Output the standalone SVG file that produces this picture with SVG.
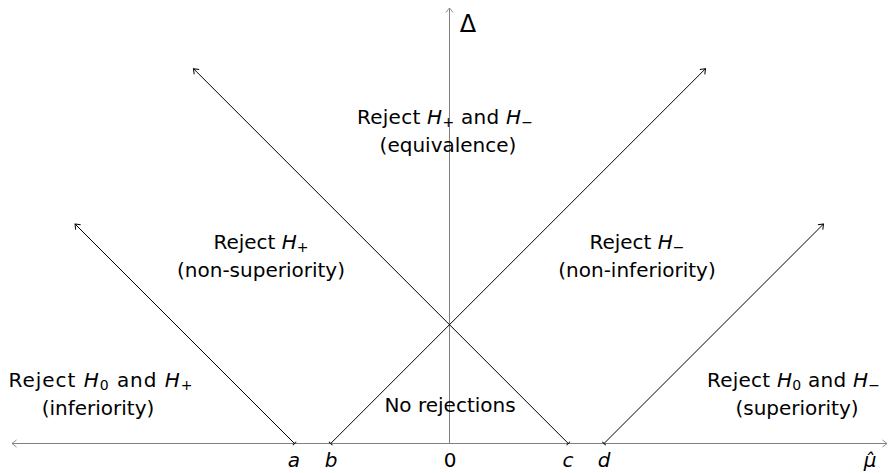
<svg xmlns="http://www.w3.org/2000/svg" width="889" height="473" viewBox="0 0 889 473">
<style>
text { font-family: "DejaVu Sans", "Liberation Sans", sans-serif; font-size: 20px; fill: #000; text-anchor: middle; }
.it { font-style: italic; }
.sub { font-size: 14px; }
.axis { stroke: #808080; stroke-width: 1; fill: none; }
.line { stroke: #000; stroke-width: 1; fill: none; }
</style>
<defs>
<marker id="arrG" viewBox="-6 -5 8 10" markerWidth="8" markerHeight="10" refX="0" refY="0" orient="auto-start-reverse" markerUnits="userSpaceOnUse">
<path d="M -4.5,-3.5 Q -1.2,-1 0,0 Q -1.2,1 -4.5,3.5" stroke="#808080" stroke-width="0.9" fill="none"/>
</marker>
<marker id="arrK" viewBox="-6 -5 8 10" markerWidth="8" markerHeight="10" refX="0" refY="0" orient="auto" markerUnits="userSpaceOnUse">
<path d="M -4.5,-3.5 Q -1.2,-1 0,0 Q -1.2,1 -4.5,3.5" stroke="#000" stroke-width="1" fill="none"/>
</marker>
<marker id="bar" viewBox="-3 -4 6 8" markerWidth="6" markerHeight="8" refX="0" refY="0" orient="auto" markerUnits="userSpaceOnUse">
<path d="M 0,-2.5 L 0,2.5" stroke="#000" stroke-width="1"/>
</marker>
</defs>
<g id="connectors">
<line id="x-axis" class="axis" x1="12" y1="443.5" x2="887" y2="443.5" marker-start="url(#arrG)" marker-end="url(#arrG)"/>
<line id="y-axis" class="axis" x1="449.5" y1="443.5" x2="449.5" y2="8" marker-end="url(#arrG)"/>
<line id="line-a" class="line" x1="294.5" y1="443.5" x2="75" y2="224" marker-start="url(#bar)" marker-end="url(#arrK)"/>
<line id="line-b" class="line" x1="330.7" y1="443.5" x2="705.5" y2="68.7" marker-start="url(#bar)" marker-end="url(#arrK)"/>
<line id="line-c" class="line" x1="568.3" y1="443.5" x2="193.5" y2="68.7" marker-start="url(#bar)" marker-end="url(#arrK)"/>
<line id="line-d" class="line" x1="604" y1="443.5" x2="823.5" y2="224" marker-start="url(#bar)" marker-end="url(#arrK)"/>
</g>
<g id="axis-labels">
<text x="294" y="467" class="it">a</text>
<text x="331" y="467" class="it">b</text>
<text x="450" y="467">0</text>
<text x="568" y="467" class="it">c</text>
<text x="604" y="467" class="it">d</text>
<text x="870" y="467" class="it">μ̂</text>
<text x="468" y="32" style="font-size:24px">Δ</text>
</g>
<g id="equivalence">
<text x="445" y="124" textLength="176" lengthAdjust="spacing">Reject <tspan class="it">H</tspan><tspan class="sub" dy="3">+</tspan><tspan dy="-3"> and </tspan><tspan class="it">H</tspan><tspan class="sub" dy="3">−</tspan></text>
<text x="448" y="152">(equivalence)</text>
</g>
<g id="non-superiority">
<text x="261" y="249">Reject <tspan class="it">H</tspan><tspan class="sub" dy="3">+</tspan></text>
<text x="261" y="277">(non-superiority)</text>
</g>
<g id="non-inferiority">
<text x="637" y="249">Reject <tspan class="it">H</tspan><tspan class="sub" dy="3">−</tspan></text>
<text x="637" y="277">(non-inferiority)</text>
</g>
<g id="inferiority">
<text x="100.5" y="387" textLength="184" lengthAdjust="spacing">Reject <tspan class="it">H</tspan><tspan class="sub" dy="3">0</tspan><tspan dy="-3"> and </tspan><tspan class="it">H</tspan><tspan class="sub" dy="3">+</tspan></text>
<text x="98" y="415">(inferiority)</text>
</g>
<g id="superiority">
<text x="793.5" y="387" textLength="173" lengthAdjust="spacing">Reject <tspan class="it">H</tspan><tspan class="sub" dy="3">0</tspan><tspan dy="-3"> and </tspan><tspan class="it">H</tspan><tspan class="sub" dy="3">−</tspan></text>
<text x="797" y="415">(superiority)</text>
</g>
<g id="no-rejections">
<text x="450" y="412">No rejections</text>
</g>
</svg>
